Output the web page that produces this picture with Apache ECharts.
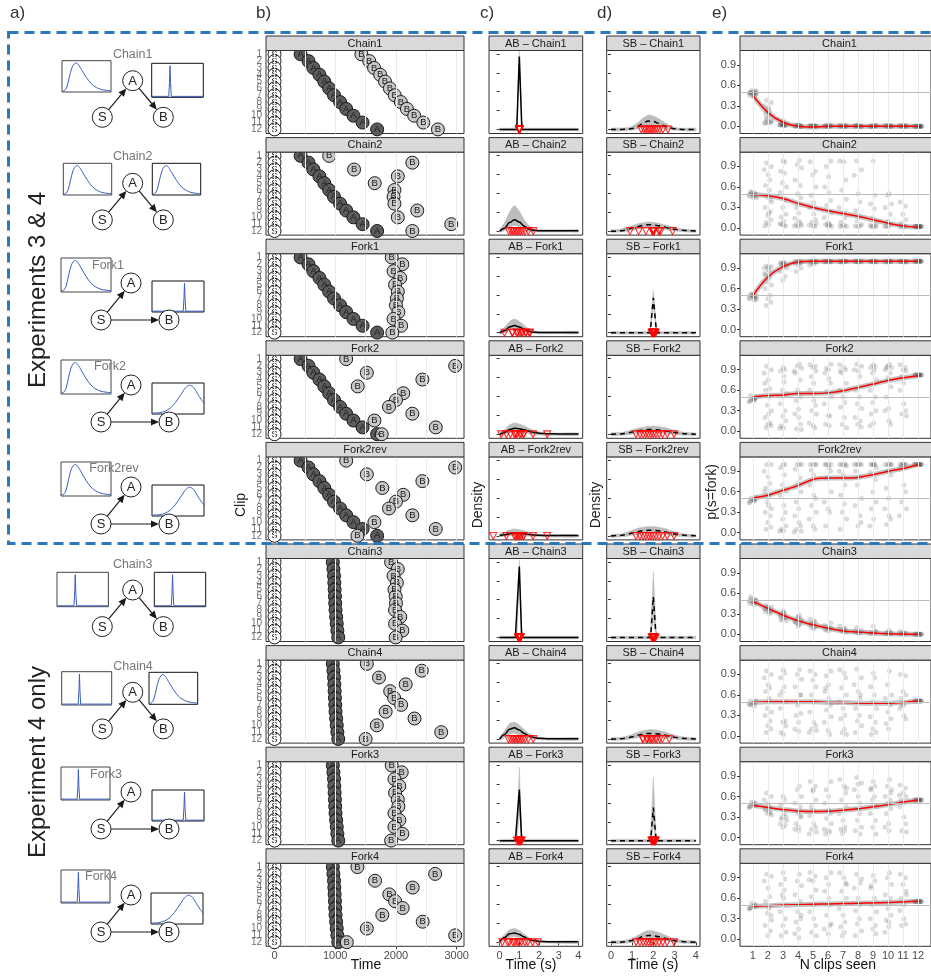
<!DOCTYPE html>
<html>
<head>
<meta charset="utf-8">
<script src="https://cdn.jsdelivr.net/npm/echarts@6/dist/echarts.min.js"></script>
<style>
html,body{margin:0;padding:0;background:#fff}
#chart{width:931px;height:976px}
</style>
</head>
<body>
<div id="chart"></div>
<script>
// ---------------- data ----------------
const panelNames = ['Chain1','Chain2','Fork1','Fork2','Fork2rev','Chain3','Chain4','Fork3','Fork4'];
const clipNumbers = [1,2,3,4,5,6,7,8,9,10,11,12];
const timeTicks = [0,1000,2000,3000];
const timeGridLines = [0,500,1000,1500,2000,2500,3000];
const secondTicks = [0,1,2,3,4];
const densityTicks = [0,1,2,3,4];
const probTicks = [0,0.3,0.6,0.9];
const chanceLevel = 0.5;

// event onsets per clip (ms)
const sOnsets = [0,0,0,0,0,0,0,0,0,0,0,0];
const aOnsetsExp3 = [430,560,640,740,820,900,980,1080,1180,1300,1450,1690];
const aOnsetsExp4 = [960,970,980,985,990,995,1000,1005,1015,1025,1035,1050];
const bChain1 = [1430,1560,1640,1740,1820,1900,1980,2080,2180,2300,2450,2690];
const bChain2 = [900,2270,1310,2030,1650,1975,1960,1975,2350,2030,2910,2270];
const bFork1 = [1930,2105,1960,2070,1985,2030,2015,2000,2040,1960,2085,1940];
const bFork2 = [1180,2975,1520,2435,1370,2120,2000,1885,2270,1645,2655,1765];
const bFork2rev = [1180,2975,1520,2435,1775,2120,2000,1885,2270,1645,2655,1365];
const bChain3 = [1920,2030,1960,2015,1975,1995,2000,1985,2070,1985,2105,1995];
const bChain4 = [1520,2425,1720,2160,1905,1970,2085,1830,2305,1685,2745,1500];
const bFork3 = [1930,2095,1975,2055,1985,2030,2040,1975,2055,1975,2105,1920];
const bFork4 = [1365,2645,1655,2275,1890,1985,2110,1775,2440,1520,2975,1190];

const aOnsets = [aOnsetsExp3,aOnsetsExp3,aOnsetsExp3,aOnsetsExp3,aOnsetsExp3,aOnsetsExp4,aOnsetsExp4,aOnsetsExp4,aOnsetsExp4];
const bOnsets = [bChain1,bChain2,bFork1,bFork2,bFork2rev,bChain3,bChain4,bFork3,bFork4];

// density estimates: [seconds, lower, estimate, upper]
const abChain1 = [[0,-.07,0,.07],[.75,-.07,0,.07],[.87,-.07,0,.45],[1,3.45,3.86,4.15],[1.13,-.07,0,.45],[1.25,-.07,0,.07],[4,-.07,0,.07]];
const abChain2 = [[0,-.06,0,.08],[.25,.03,.15,.45],[.5,.2,.45,1],[.75,.3,.6,1.35],[1,.22,.48,1.05],[1.25,.08,.26,.6],[1.5,0,.1,.28],[1.75,-.04,.04,.13],[2,-.05,.02,.08],[2.5,-.05,.02,.07],[3,-.05,.02,.07],[3.5,-.05,.02,.07],[4,-.05,.02,.07]];
const abFork1 = [[0,-.06,0,.07],[.25,0,.1,.3],[.5,.12,.3,.6],[.75,.15,.38,.72],[1,.1,.3,.6],[1.25,.04,.18,.4],[1.5,-.02,.08,.2],[1.75,-.05,.03,.1],[2,-.06,.01,.07],[3,-.06,.01,.07],[4,-.06,.01,.07]];
const abFork2 = [[0,-.06,0,.07],[.25,0,.1,.25],[.5,.08,.25,.5],[.75,.12,.32,.6],[1,.1,.3,.55],[1.25,.06,.24,.45],[1.5,.02,.16,.32],[1.75,-.02,.1,.2],[2,-.04,.06,.13],[2.25,-.05,.04,.09],[2.5,-.06,.03,.07],[3,-.06,.02,.07],[4,-.06,.02,.07]];
const abFork2rev = [[0,-.05,.02,.1],[.25,-.03,.06,.2],[.5,0,.12,.32],[.75,.02,.15,.37],[1,.02,.14,.34],[1.25,0,.11,.27],[1.5,-.02,.08,.2],[1.75,-.04,.05,.13],[2,-.05,.03,.09],[2.5,-.06,.02,.07],[3,-.06,.02,.07],[4,-.06,.02,.07]];
const abChain3 = [[0,-.07,0,.07],[.8,-.07,0,.07],[.88,-.07,0,.5],[1,3.3,3.76,4.1],[1.12,-.07,0,.5],[1.2,-.07,0,.07],[4,-.07,0,.07]];
const abChain4 = [[0,-.06,0,.08],[.25,.08,.25,.45],[.5,.25,.52,.82],[.75,.3,.6,.9],[1,.22,.48,.75],[1.25,.12,.3,.5],[1.5,.04,.16,.3],[1.75,0,.08,.16],[2,-.03,.04,.1],[2.5,-.05,.02,.07],[3,-.06,.02,.07],[4,-.06,.02,.07]];
const abFork3 = [[0,-.07,0,.07],[.8,-.07,0,.07],[.88,-.07,0,.45],[1,1.6,2.7,3.9],[1.12,-.07,0,.45],[1.2,-.07,0,.07],[4,-.07,0,.07]];
const abFork4 = [[0,-.05,.02,.1],[.25,.1,.25,.42],[.5,.25,.45,.66],[.75,.3,.5,.73],[1,.24,.42,.62],[1.25,.14,.28,.43],[1.5,.05,.15,.26],[1.75,0,.08,.15],[2,-.02,.05,.1],[2.5,-.04,.03,.07],[3,-.05,.03,.07],[4,-.05,.03,.07]];

const sbChain1 = [[0,-.07,0,.07],[.75,-.06,.01,.09],[1,-.03,.05,.18],[1.25,.03,.15,.35],[1.5,.12,.32,.6],[1.75,.2,.45,.76],[2,.2,.43,.72],[2.25,.14,.33,.58],[2.5,.06,.2,.4],[2.75,0,.1,.22],[3,-.04,.04,.12],[3.25,-.06,.01,.08],[3.5,-.07,0,.07],[4,-.07,0,.07]];
const sbChain2 = [[0,-.07,0,.07],[.25,-.06,0,.08],[.5,-.05,.02,.12],[.75,-.02,.08,.2],[1,.04,.16,.3],[1.25,.1,.24,.38],[1.5,.15,.3,.44],[1.75,.18,.34,.48],[2,.18,.33,.47],[2.25,.14,.28,.42],[2.5,.09,.22,.35],[2.75,.04,.15,.27],[3,.01,.1,.2],[3.25,-.02,.06,.14],[3.5,-.04,.03,.1],[3.75,-.06,.02,.08],[4,-.06,.01,.07]];
const sbFork1 = [[0,-.07,0,.07],[1.7,-.07,0,.07],[1.85,-.07,0,.3],[2,1.4,1.85,2.25],[2.15,-.07,0,.3],[2.3,-.07,0,.07],[4,-.07,0,.07]];
const sbFork2 = [[0,-.07,0,.07],[.5,-.05,.02,.1],[.75,-.03,.06,.16],[1,.01,.12,.24],[1.25,.05,.18,.32],[1.5,.08,.22,.38],[1.75,.1,.25,.42],[2,.1,.25,.44],[2.25,.08,.23,.42],[2.5,.05,.19,.37],[2.75,.02,.15,.3],[3,-.01,.1,.22],[3.25,-.04,.06,.15],[3.5,-.05,.03,.1],[4,-.06,.01,.07]];
const sbFork2rev = [[0,-.07,0,.07],[.5,-.05,.03,.12],[.75,-.02,.08,.2],[1,.03,.15,.3],[1.25,.08,.22,.4],[1.5,.12,.27,.46],[1.75,.14,.3,.5],[2,.14,.3,.5],[2.25,.11,.27,.46],[2.5,.07,.22,.4],[2.75,.03,.16,.31],[3,0,.1,.22],[3.25,-.03,.06,.15],[3.5,-.05,.03,.1],[4,-.06,.01,.07]];
const sbChain3 = [[0,-.07,0,.07],[1.75,-.07,0,.07],[1.87,-.07,0,.4],[2,1,2.16,3.5],[2.13,-.07,0,.4],[2.25,-.07,0,.07],[4,-.07,0,.07]];
const sbChain4 = [[0,-.07,0,.07],[.5,-.05,.02,.1],[.75,-.03,.06,.16],[1,.02,.12,.26],[1.25,.07,.2,.36],[1.5,.11,.26,.44],[1.75,.13,.3,.5],[2,.13,.3,.5],[2.25,.11,.27,.46],[2.5,.07,.22,.39],[2.75,.03,.16,.3],[3,0,.1,.22],[3.25,-.03,.06,.15],[3.5,-.05,.03,.1],[4,-.06,.01,.07]];
const sbFork3 = [[0,-.07,0,.07],[1.75,-.07,0,.07],[1.87,-.07,0,.4],[2,.8,1.75,3.35],[2.13,-.07,0,.4],[2.25,-.07,0,.07],[4,-.07,0,.07]];
const sbFork4 = [[0,-.07,0,.07],[.5,-.06,.01,.08],[.75,-.04,.04,.13],[1,.01,.1,.22],[1.25,.07,.2,.36],[1.5,.13,.3,.52],[1.75,.16,.36,.62],[2,.15,.35,.6],[2.25,.12,.3,.52],[2.5,.07,.23,.42],[2.75,.03,.15,.3],[3,0,.09,.2],[3.25,-.03,.05,.13],[3.5,-.05,.03,.09],[4,-.06,.01,.07]];

const abDensities = [abChain1,abChain2,abFork1,abFork2,abFork2rev,abChain3,abChain4,abFork3,abFork4];
const sbDensities = [sbChain1,sbChain2,sbFork1,sbFork2,sbFork2rev,sbChain3,sbChain4,sbFork3,sbFork4];

// p(s=fork) judgements per number of clips seen (one string per clip count)
const judgChain1 = [
 '0.45 0.47 0.48 0.5 0.52 0.49 0.46 0.51 0.48 0.44 0.53 0.47 0.5 0.49',
 '0.38 0.35 0.3 0.25 0.22 0.18 0.15 0.1 0.08 0.06 0.05 0.05 0.07 0.12 0.28 0.04',
 '0.08 0.04 0.03 0.02 0.02 0.03 0.02 0.01 0.05 0.02 0.03 0.01 0.02 0.03',
 '0.02 0.01 0 0.01 0 0.01 0 0.01 0.02 0 0.01 0 0.01 0',
 '0.01 0 0 0.01 0 0.01 0 0.01 0 0.01 0 0.01 0 0',
 '0.01 0 0 0.01 0 0.01 0 0.01 0 0.01 0 0.01 0 0',
 '0.01 0 0 0.01 0 0.01 0 0.01 0 0.01 0 0.01 0 0',
 '0.01 0 0 0.01 0 0.01 0 0.01 0 0.01 0 0.01 0 0',
 '0.01 0 0 0.01 0 0.01 0 0.01 0 0.01 0 0.01 0 0',
 '0.01 0 0 0.01 0 0.01 0 0.01 0 0.01 0 0.01 0 0',
 '0.01 0 0 0.01 0 0.01 0 0.01 0 0.01 0 0.01 0 0',
 '0 0 0 0 0 0 0 0 0 0 0 0 0 0 0 0'];
const judgChain2 = [
 '0.46 0.48 0.5 0.52 0.47 0.49 0.45 0.51 0.53 0.48 0.5 0.44',
 '0.95 0.9 0.85 0.78 0.7 0.62 0.55 0.45 0.38 0.3 0.24 0.18 0.12 0.08 0.05 0.03 0.22 0.42',
 '0.98 0.96 0.83 0.8 0.66 0.6 0.52 0.4 0.3 0.2 0.16 0.1 0.06 0.04 0.03 0.05',
 '0.99 0.93 0.88 0.7 0.62 0.5 0.44 0.3 0.22 0.14 0.1 0.07 0.05 0.04 0.03 0.02',
 '0.97 0.83 0.78 0.6 0.48 0.37 0.3 0.2 0.12 0.08 0.06 0.04 0.03 0.02',
 '0.98 0.9 0.75 0.6 0.52 0.4 0.33 0.22 0.15 0.08 0.05 0.05 0.04 0.03 0.02',
 '0.98 0.97 0.7 0.55 0.42 0.3 0.22 0.15 0.08 0.04 0.03 0.02 0.02',
 '0.98 0.85 0.77 0.5 0.38 0.25 0.18 0.1 0.05 0.03 0.03 0.02',
 '0.98 0.48 0.35 0.28 0.15 0.08 0.04 0.03 0.02 0.02 0.02',
 '0.5 0.48 0.35 0.3 0.2 0.1 0.05 0.03 0.02 0.02',
 '0.38 0.32 0.2 0.12 0.07 0.03 0.02 0.02 0.02 0.02',
 '0.02 0.02 0.02 0.02 0.02 0.02 0.02 0.02 0.02 0.02 0.02 0.02 0.02 0.02'];
const judgFork1 = [
 '0.45 0.48 0.5 0.52 0.44 0.47 0.49 0.46 0.51 0.43 0.5 0.48',
 '0.93 0.92 0.9 0.88 0.85 0.8 0.75 0.7 0.65 0.6 0.5 0.45 0.4 0.35 0.92 0.82',
 '0.98 0.98 0.97 0.96 0.95 0.9 0.85 0.78 0.72 0.95 0.97 0.93',
 '1 1 0.99 0.98 0.97 0.95 0.9 0.85 0.99 1 1 0.99',
 '1 1 0.99 0.99 0.98 0.96 0.94 1 1 1 0.99',
 '1 1 1 0.99 1 0.99 1 1 1 1 0.99 1',
 '1 1 1 0.99 1 0.99 1 1 1 1 0.99 1',
 '1 1 1 0.99 1 0.99 1 1 1 1 0.99 1',
 '1 1 1 0.99 1 0.99 1 1 1 1 0.99 1',
 '1 1 1 0.99 1 0.99 1 1 1 1 0.99 1',
 '1 1 1 0.99 1 0.99 1 1 1 1 0.99 1',
 '1 1 1 1 1 1 1 1 1 1 1 1 1 1'];
const judgFork2 = [
 '0.44 0.47 0.49 0.46 0.5 0.43 0.48 0.45 0.52 0.47',
 '0.95 0.9 0.85 0.75 0.62 0.6 0.5 0.38 0.3 0.2 0.12 0.1 0.08 0.05 0.25 0.7',
 '0.93 0.9 0.88 0.72 0.6 0.55 0.4 0.3 0.22 0.15 0.08 0.05 0.04 0.8',
 '0.98 0.95 0.92 0.85 0.75 0.6 0.5 0.45 0.32 0.25 0.2 0.1 0.03 0.02 0.88',
 '0.97 0.95 0.93 0.88 0.8 0.7 0.6 0.45 0.38 0.3 0.25 0.12 0.08 0.05',
 '0.98 0.92 0.9 0.85 0.77 0.7 0.58 0.5 0.4 0.23 0.22 0.1 0.08',
 '0.97 0.93 0.9 0.85 0.7 0.6 0.5 0.42 0.35 0.2 0.1 0.05 0.88',
 '0.98 0.95 0.9 0.88 0.8 0.6 0.5 0.4 0.33 0.2 0.15 0.1 0.06',
 '0.97 0.95 0.93 0.9 0.85 0.75 0.6 0.5 0.42 0.3 0.25 0.12 0.08',
 '0.98 0.95 0.93 0.9 0.85 0.78 0.65 0.5 0.33 0.3 0.15 0.1 0.93',
 '0.97 0.93 0.9 0.88 0.8 0.7 0.6 0.4 0.3 0.25 0.22',
 '0.82 0.82 0.82 0.82 0.82 0.82 0.82 0.82 0.82 0.82 0.82 0.82'];
const judgFork2rev = [
 '0.45 0.48 0.5 0.47 0.52 0.44 0.49 0.46 0.51 0.48',
 '1 1 0.9 0.82 0.72 0.65 0.55 0.45 0.35 0.3 0.25 0.15 0.08 0.05 0.4 0.6',
 '1 1 0.95 0.85 0.7 0.6 0.55 0.3 0.2 0.1 0.05 0.03 0.02 0.4',
 '1 1 1 0.93 0.8 0.72 0.6 0.45 0.35 0.25 0.15 0.1 0.05 0.02 0.01',
 '1 1 1 1 0.92 0.85 0.7 0.55 0.5 0.4 0.3 0.2 0.1 0.05',
 '1 1 1 1 0.95 0.9 0.8 0.6 0.45 0.35 0.3 0.1',
 '1 1 1 1 0.98 0.9 0.85 0.7 0.55 0.42 0.3 0.2 0.05',
 '1 1 1 1 1 0.9 0.82 0.7 0.5 0.4 0.25 0.1 0.15',
 '1 1 1 1 1 0.95 0.88 0.78 0.6 0.45 0.35 0.2 0.1',
 '1 1 1 1 1 0.9 0.85 0.65 0.5 0.35 0.25 0.2 0.12',
 '1 1 1 1 1 1 0.95 0.7 0.6 0.45 0.35 0.25',
 '1 1 1 1 1 1 1 1 1 1 1 1'];
const judgChain3 = [
 '0.45 0.48 0.5 0.52 0.47 0.49 0.46 0.51 0.55 0.43 0.48 0.5',
 '0.42 0.4 0.38 0.36 0.35 0.33 0.3 0.38 0.34 0.37 0.32 0.4',
 '0.35 0.3 0.28 0.25 0.22 0.2 0.27 0.24 0.3 0.26 0.21 0.32',
 '0.28 0.25 0.2 0.18 0.15 0.12 0.22 0.17 0.25 0.19 0.14',
 '0.22 0.18 0.15 0.12 0.1 0.08 0.14 0.2 0.11 0.16',
 '0.17 0.12 0.09 0.07 0.05 0.1 0.06 0.08 0.13',
 '0.12 0.08 0.06 0.05 0.03 0.07 0.04 0.09',
 '0.1 0.06 0.04 0.03 0.02 0.05 0.03 0.02',
 '0.12 0.05 0.03 0.02 0.02 0.04 0.01 0.02',
 '0.06 0.03 0.02 0.01 0.02 0.01 0.01 0.02',
 '0.04 0.02 0.01 0.01 0.01 0.02 0.01 0.01',
 '0 0 0 0 0 0 0 0 0 0 0 0'];
const judgChain4 = [
 '0.46 0.48 0.5 0.45 0.52 0.47 0.49 0.44 0.51',
 '0.95 0.9 0.85 0.75 0.7 0.65 0.55 0.4 0.35 0.3 0.22 0.15 0.1 0.05',
 '0.97 0.92 0.85 0.72 0.65 0.5 0.4 0.22 0.2 0.15 0.05 0.02 0.6',
 '0.97 0.9 0.83 0.72 0.6 0.45 0.33 0.3 0.2 0.1 0.07 0.6',
 '0.95 0.9 0.82 0.72 0.6 0.5 0.35 0.2 0.15 0.1 0.08 0.05',
 '0.95 0.88 0.75 0.65 0.55 0.45 0.38 0.28 0.2 0.08 0.02 0.7',
 '0.97 0.92 0.85 0.7 0.6 0.5 0.4 0.3 0.25 0.1 0.05 0.02',
 '0.98 0.85 0.75 0.65 0.55 0.4 0.3 0.22 0.15 0.05 0.6',
 '0.92 0.85 0.72 0.6 0.5 0.4 0.28 0.2 0.1 0.05 0.02',
 '0.95 0.75 0.6 0.55 0.45 0.35 0.25 0.18 0.1',
 '0.9 0.88 0.65 0.6 0.55 0.45 0.4 0.3 0.25 0.45',
 '0.51 0.51 0.51 0.51 0.51 0.51 0.51 0.51 0.51 0.51 0.51 0.51'];
const judgFork3 = [
 '0.45 0.48 0.5 0.52 0.47 0.44 0.49 0.51 0.46',
 '0.65 0.6 0.55 0.5 0.45 0.4 0.38 0.35 0.33 0.42 0.36',
 '0.6 0.55 0.48 0.35 0.3 0.25 0.2 0.18 0.15 0.3 0.27',
 '0.75 0.7 0.6 0.5 0.45 0.35 0.3 0.2 0.15 0.12 0.1 0.32',
 '0.82 0.75 0.68 0.55 0.45 0.4 0.32 0.2 0.15 0.12 0.08 0.05 0.7',
 '0.82 0.7 0.6 0.5 0.4 0.35 0.28 0.2 0.12 0.1 0.08 0.05',
 '0.85 0.75 0.65 0.55 0.45 0.35 0.25 0.15 0.12 0.1 0.06 0.72',
 '0.88 0.8 0.7 0.6 0.5 0.42 0.35 0.25 0.15 0.1 0.05 0.78',
 '0.82 0.75 0.7 0.6 0.55 0.45 0.35 0.25 0.15 0.05 0.72',
 '0.85 0.75 0.7 0.6 0.55 0.5 0.42 0.35 0.2 0.15 0.1 0.65',
 '0.77 0.72 0.65 0.6 0.55 0.5 0.45 0.3 0.2 0.1 0.08 0.62',
 '0.55 0.55 0.55 0.55 0.55 0.55 0.55 0.55 0.55 0.55 0.55 0.55'];
const judgFork4 = [
 '0.45 0.48 0.5 0.52 0.47 0.44 0.49 0.51 0.46 0.48',
 '0.95 0.92 0.85 0.75 0.62 0.55 0.45 0.38 0.28 0.2 0.12 0.05 0.35',
 '0.97 0.88 0.8 0.72 0.65 0.5 0.4 0.3 0.2 0.1 0.05 0.6',
 '0.95 0.85 0.78 0.65 0.55 0.4 0.35 0.25 0.15 0.08 0.02 0.3',
 '0.98 0.92 0.85 0.72 0.62 0.5 0.4 0.3 0.2 0.1 0.05 0.87',
 '0.97 0.9 0.8 0.7 0.6 0.5 0.35 0.22 0.15 0.08 0.2',
 '0.97 0.9 0.82 0.7 0.6 0.45 0.35 0.25 0.18 0.1 0.05 0.8',
 '0.95 0.88 0.75 0.6 0.5 0.42 0.3 0.22 0.12 0.05 0.82',
 '0.93 0.85 0.75 0.6 0.5 0.4 0.3 0.2 0.15 0.08 0.78',
 '0.97 0.9 0.8 0.65 0.6 0.45 0.35 0.28 0.18 0.1 0.25',
 '0.95 0.9 0.8 0.7 0.6 0.5 0.42 0.3 0.22 0.2 0.65',
 '0.55 0.55 0.55 0.55 0.55 0.55 0.55 0.55 0.55 0.55 0.55 0.55'];
const judgements = [judgChain1,judgChain2,judgFork1,judgFork2,judgFork2rev,judgChain3,judgChain4,judgFork3,judgFork4];

// smoothed mean judgement per clip count
const smoothChain1 = [0.45,0.2,0.06,0.0,-0.01,0.0,0.0,0.0,0.0,0.0,0.0,0.0];
const smoothChain2 = [0.49,0.47,0.43,0.36,0.3,0.25,0.21,0.17,0.12,0.07,0.03,0.01];
const smoothFork1 = [0.5,0.77,0.92,0.99,1.0,1.0,1.0,1.0,1.0,1.0,1.0,1.0];
const smoothFork2 = [0.5,0.52,0.53,0.55,0.55,0.56,0.59,0.64,0.69,0.74,0.78,0.81];
const smoothFork2rev = [0.51,0.55,0.62,0.69,0.78,0.8,0.8,0.81,0.85,0.9,0.94,1.0];
const smoothChain3 = [0.48,0.38,0.28,0.2,0.14,0.09,0.05,0.035,0.02,0.01,0.005,0.0];
const smoothChain4 = [0.49,0.5,0.5,0.5,0.5,0.49,0.49,0.48,0.48,0.48,0.49,0.51];
const smoothFork3 = [0.47,0.44,0.41,0.39,0.38,0.385,0.4,0.42,0.45,0.48,0.52,0.55];
const smoothFork4 = [0.48,0.49,0.5,0.505,0.51,0.515,0.52,0.525,0.53,0.535,0.545,0.555];
const smoothed = [smoothChain1,smoothChain2,smoothFork1,smoothFork2,smoothFork2rev,smoothChain3,smoothChain4,smoothFork3,smoothFork4];

// delay distributions sketched in the structure diagrams (unit scale)
const skewCurveX = [0,.05,.1,.15,.2,.25,.29,.35,.4,.5,.6,.7,.8,.9,1];
const skewCurveY = [0,.02,.15,.5,.82,.97,1,.9,.76,.48,.26,.13,.06,.03,.01];
const spikeEarlyX = [0,.33,.345,.355,.365,.38,1];
const spikeEarlyY = [0,0,.45,1,.45,0,0];
const spikeLateX = [0,.6,.615,.625,.635,.65,1];
const spikeLateY = [0,0,.45,1,.45,0,0];
const gaussCurveX = [0,.15,.25,.35,.45,.55,.65,.72,.8,.9,1];
const gaussCurveY = [0,.02,.07,.18,.38,.65,.92,1,.92,.62,.35];

// ---------------- layout & styling ----------------
const FONT = "'Liberation Sans', Arial, Helvetica, sans-serif";
const ROW0 = 36, PITCH = 101.6, STRIP = 14.5, PLOT_H = 83;
const rowTop = i => ROW0 + i * PITCH;
const plotTop = i => rowTop(i) + STRIP;
const COL = {
  b: {left: 266, width: 198},
  c: {left: 489, width: 93.7},
  d: {left: 606.7, width: 93.3},
  e: {left: 740, width: 196}
};
const jitterOffsets = [-0.21,0.06,0.17,-0.09,0.23,-0.25,0.01,0.12,-0.16,0.09,-0.04,0.24,-0.19,0.15,-0.01,0.2,-0.12,0.04];

const grid = [], xAxis = [], yAxis = [], series = [], elements = [];

function addGrid(box, xa, ya) {
  grid.push(Object.assign({show: true, borderColor: '#333', borderWidth: 1, backgroundColor: '#fff', containLabel: false}, box));
  const idx = grid.length - 1;
  xAxis.push(Object.assign({gridIndex: idx}, xa));
  yAxis.push(Object.assign({gridIndex: idx}, ya));
  return idx;
}
function axisBase(extra) {
  return Object.assign({type: 'value', axisLine: {show: false}, splitLine: {show: false},
    axisTick: {show: false}, axisLabel: {show: false}}, extra);
}
function tickCfg(values, show) {
  return {show: show, customValues: values, length: 3, lineStyle: {color: '#333', width: 1}};
}
function labelCfg(values, show, fmt, size) {
  return {show: show, customValues: values, formatter: fmt, color: '#4d4d4d', fontSize: size || 11,
    fontFamily: FONT, margin: 4, showMinLabel: true, showMaxLabel: true, hideOverlap: false};
}
function refLines(g, dim, values, color, width, anchor) {
  return {type: 'scatter', xAxisIndex: g, yAxisIndex: g, z: 1, silent: true, symbolSize: 0,
    data: [anchor],
    markLine: {silent: true, symbol: ['none', 'none'], label: {show: false}, animation: false,
      lineStyle: {color: color, width: width, type: 'solid'},
      emphasis: {disabled: true},
      data: values.map(v => ({[dim]: v}))}};
}
function stripBox(left, width, top, text) {
  elements.push({type: 'rect', z: 50, shape: {x: left, y: top, width: width, height: STRIP},
    style: {fill: '#d9d9d9', stroke: '#333', lineWidth: 1}});
  elements.push({type: 'text', z: 51, x: left + Math.min(width, 931 - left) / 2 + (left > 700 ? 4 : 0), y: top + STRIP / 2 + 0.5,
    style: {text: text, align: 'center', verticalAlign: 'middle', fontSize: 11, fontFamily: FONT, fill: '#1a1a1a'}});
}

panelNames.forEach((name, i) => {
  const last = i === panelNames.length - 1;
  const top = plotTop(i);

  // ---- b) clip timelines ----
  const gb = addGrid({left: COL.b.left, top: top, width: COL.b.width, height: PLOT_H},
    axisBase({min: -140, max: 3120, axisTick: tickCfg(timeTicks, last),
      axisLabel: labelCfg(timeTicks, last, v => String(v), 11)}),
    axisBase({inverse: true, min: 0.45, max: 12.6, axisTick: tickCfg(clipNumbers, true)}));
  stripBox(COL.b.left, COL.b.width, rowTop(i), name);
  series.push(refLines(gb, 'xAxis', timeGridLines, '#ebebeb', 1, [0, 1]));
  // clip numbers along the left edge (they overlap, as the rows are tight)
  series.push({type: 'scatter', xAxisIndex: gb, yAxisIndex: gb, z: 3, silent: true, clip: false,
    symbolSize: 0, data: clipNumbers.map(c => [-140, c]),
    label: {show: true, position: 'left', distance: 4, formatter: p => String(p.value[1]),
      fontSize: 10, fontFamily: FONT, color: '#4d4d4d'}});
  const eventSeries = (times, letter, fill) => ({
    type: 'scatter', xAxisIndex: gb, yAxisIndex: gb, z: 3, silent: true, symbol: 'circle', symbolSize: 13,
    data: times.map((t, k) => [t, clipNumbers[k]]),
    itemStyle: {color: fill, borderColor: '#1a1a1a', borderWidth: 1, opacity: 1},
    label: {show: true, position: 'inside', formatter: letter, fontSize: 9.5, fontFamily: FONT, color: '#1a1a1a'}
  });
  series.push(eventSeries(sOnsets, 'S', '#ffffff'));
  series.push(eventSeries(aOnsets[i], 'A', '#5c5c5c'));
  series.push(eventSeries(bOnsets[i], 'B', '#c8c8c8'));

  // ---- c) / d) interval densities ----
  const abGaps = bOnsets[i].map((b, k) => (b - aOnsets[i][k]) / 1000);
  const sbGaps = bOnsets[i].map((b, k) => (b - sOnsets[k]) / 1000);
  const densityPanel = (col, xmin, xmax, rows, gaps, dashed, title) => {
    const g = addGrid({left: col.left, top: top, width: col.width, height: PLOT_H},
      axisBase({min: xmin, max: xmax, axisTick: tickCfg(secondTicks, last),
        axisLabel: labelCfg(secondTicks, last, v => String(v), 11)}),
      axisBase({min: -0.21, max: 4.18, axisTick: tickCfg(densityTicks, true)}));
    stripBox(col.left, col.width, rowTop(i), title);
    const smooth = rows.length > 7 ? 0.35 : false;
    // uncertainty band: upper edge forward, lower edge back, as one polygon
    series.push({type: 'custom', xAxisIndex: g, yAxisIndex: g, z: 2, silent: true,
      data: rows.map(r => [r[0], r[1], r[3]]),
      encode: {x: 0, y: [1, 2]},
      renderItem: (params, api) => {
        if (params.dataIndex !== 0) return null;
        const upper = rows.map(r => api.coord([r[0], r[3]]));
        const lower = rows.map(r => api.coord([r[0], r[1]])).reverse();
        return {type: 'polygon', shape: {points: upper.concat(lower), smooth: smooth ? 0.25 : 0},
          style: {fill: '#bdbdbd', stroke: '#bdbdbd', lineWidth: 0.5}};
      }});
    series.push({type: 'line', xAxisIndex: g, yAxisIndex: g, z: 3, silent: true, symbol: 'none',
      smooth: smooth, smoothMonotone: 'x',
      lineStyle: {color: '#000', width: 1.5, type: dashed ? [5, 4] : 'solid'},
      data: rows.map(r => [r[0], r[2]])});
    series.push({type: 'scatter', xAxisIndex: g, yAxisIndex: g, z: 4, silent: true,
      symbol: 'triangle', symbolRotate: 180, symbolSize: 7,
      itemStyle: {color: 'rgba(255,255,255,0)', borderColor: '#ff0000', borderWidth: 1.1},
      data: gaps.map(v => [v, 0])});
  };
  densityPanel(COL.c, -0.54, 4.22, abDensities[i], abGaps, false, 'AB \u2013 ' + name);
  densityPanel(COL.d, -0.2, 4.2, sbDensities[i], sbGaps, true, 'SB \u2013 ' + name);

  // ---- e) judgements ----
  const ge = addGrid({left: COL.e.left, top: top, width: COL.e.width, height: PLOT_H},
    axisBase({min: 0.14, max: 12.86, axisTick: tickCfg(clipNumbers, last),
      axisLabel: labelCfg(clipNumbers, last, v => String(v), 11)}),
    axisBase({min: -0.105, max: 1.11, axisTick: tickCfg(probTicks, true),
      axisLabel: labelCfg(probTicks, true, v => v.toFixed(1), 11)}));
  stripBox(COL.e.left, COL.e.width + 10, rowTop(i), name);
  series.push(refLines(ge, 'xAxis', clipNumbers, '#ebebeb', 1, [1, 0.5]));
  series.push(refLines(ge, 'yAxis', [chanceLevel], '#bdbdbd', 1.2, [1, 0.5]));
  const pts = [];
  judgements[i].forEach((s, k) => {
    s.trim().split(/\s+/).map(Number).forEach((v, j) => {
      pts.push([clipNumbers[k] + jitterOffsets[(j + 3 * k) % jitterOffsets.length], v]);
    });
  });
  series.push({type: 'scatter', xAxisIndex: ge, yAxisIndex: ge, z: 2, silent: true, symbolSize: 5,
    itemStyle: {color: 'rgba(30,30,30,0.2)'}, data: pts});
  const curve = smoothed[i].map((v, k) => [clipNumbers[k], v]);
  series.push({type: 'line', xAxisIndex: ge, yAxisIndex: ge, z: 3, silent: true, symbol: 'none',
    smooth: 0.3, lineStyle: {color: 'rgba(150,150,150,0.55)', width: 5}, data: curve});
  series.push({type: 'line', xAxisIndex: ge, yAxisIndex: ge, z: 4, silent: true, symbol: 'none',
    smooth: 0.3, lineStyle: {color: '#ff0000', width: 1.5}, data: curve});
});

// ---------------- a) structure diagrams ----------------
const diagramLeftCurve = [
  [skewCurveX, skewCurveY],[skewCurveX, skewCurveY],[skewCurveX, skewCurveY],[skewCurveX, skewCurveY],[skewCurveX, skewCurveY],
  [spikeEarlyX, spikeEarlyY],[spikeEarlyX, spikeEarlyY],[spikeEarlyX, spikeEarlyY],[spikeEarlyX, spikeEarlyY]];
const diagramRightCurve = [
  [spikeEarlyX, spikeEarlyY],[skewCurveX, skewCurveY],[spikeLateX, spikeLateY],[gaussCurveX, gaussCurveY],[gaussCurveX, gaussCurveY],
  [spikeEarlyX, spikeEarlyY],[skewCurveX, skewCurveY],[spikeLateX, spikeLateY],[gaussCurveX, gaussCurveY]];
const nodeA_Y = [80.7, 183.3, 283, 385, 487, 590, 692.3, 792, 895];
const leftBoxes = [[62,60.7,49,31.3],[63.3,163.3,48.4,31.7],[61,258,50,34],[61,360,50,34],[61,462,50,34],
                   [57,572.3,51.4,34.4],[61.7,671.7,50,33.3],[61,767,49,33],[61,870,49,33]];
const rightBoxes = [[151.7,63.3,51.6,34],[152.3,163.3,48.4,31.7],[152,281,52,31],[152,383,52,31],[152,485,52,31],
                    [154.3,572.3,51.4,34.4],[149,672.3,48.7,32],[152,790,52,31],[151,893,52,31]];
const titlePos = [[132.7,54.3],[132.7,156.7],[108,266],[110,367],[114,469],[132.7,564.3],[133,667],[106,775],[101,877]];

function miniCurve(box, curve, border) {
  const g = addGrid({left: box[0], top: box[1], width: box[2], height: box[3], borderColor: border, borderWidth: 1},
    {type: 'value', min: 0, max: 1, show: false}, {type: 'value', min: -0.03, max: 1.08, show: false});
  series.push({type: 'line', xAxisIndex: g, yAxisIndex: g, silent: true, symbol: 'none',
    smooth: curve[0].length > 7 ? 0.3 : false,
    lineStyle: {color: '#3c5cbd', width: 1}, data: curve[0].map((x, k) => [x, curve[1][k]])});
}
function node(cx, cy, letter) {
  elements.push({type: 'circle', z: 60, shape: {cx: cx, cy: cy, r: 10}, style: {fill: '#fff', stroke: '#222', lineWidth: 1}});
  elements.push({type: 'text', z: 61, x: cx, y: cy + 0.5, style: {text: letter, align: 'center', verticalAlign: 'middle',
    fontSize: 13, fontFamily: FONT, fill: '#222'}});
}
function arrow(p, q) {
  const r = 10, dx = q[0] - p[0], dy = q[1] - p[1], L = Math.hypot(dx, dy), ux = dx / L, uy = dy / L;
  const x1 = p[0] + ux * r, y1 = p[1] + uy * r, x2 = q[0] - ux * r, y2 = q[1] - uy * r;
  const hl = 8, hw = 3.6, bx = x2 - ux * hl, by = y2 - uy * hl;
  elements.push({type: 'line', z: 60, shape: {x1: x1, y1: y1, x2: bx, y2: by}, style: {stroke: '#1a1a1a', lineWidth: 1.2}});
  elements.push({type: 'polygon', z: 60, shape: {points: [[x2, y2], [bx - uy * hw, by + ux * hw], [bx + uy * hw, by - ux * hw]]},
    style: {fill: '#1a1a1a'}});
}

panelNames.forEach((name, i) => {
  const fork = name.indexOf('Fork') === 0;
  const yA = nodeA_Y[i];
  miniCurve(leftBoxes[i], diagramLeftCurve[i], '#444');
  miniCurve(rightBoxes[i], diagramRightCurve[i], '#111');
  elements.push({type: 'text', z: 62, x: titlePos[i][0], y: titlePos[i][1],
    style: {text: name, align: 'center', verticalAlign: 'middle', fontSize: 12.5, fontFamily: FONT, fill: '#777'}});
  const A = fork ? [131, yA] : [132.7, yA];
  const S = fork ? [101, yA + 37] : [102.3, yA + 36.6];
  const B = fork ? [169, yA + 37] : [163.3, yA + 36.6];
  arrow(S, A);
  if (fork) arrow(S, B); else arrow(A, B);
  node(A[0], A[1], 'A'); node(S[0], S[1], 'S'); node(B[0], B[1], 'B');
});

// ---------------- titles and frames ----------------
[['a)', 10], ['b)', 256], ['c)', 480], ['d)', 597], ['e)', 712]].forEach(([t, x]) => {
  elements.push({type: 'text', z: 70, x: x, y: 13, style: {text: t, align: 'left', verticalAlign: 'middle',
    fontSize: 17, fontFamily: FONT, fill: '#333'}});
});
const rotText = (text, x, y, size) => elements.push({type: 'text', z: 70, x: x, y: y, rotation: Math.PI / 2,
  style: {text: text, align: 'center', verticalAlign: 'middle', fontSize: size, fontFamily: FONT, fill: '#222'}});
rotText('Experiments 3 & 4', 38, 290, 24);
rotText('Experiment 4 only', 38, 762, 24);
rotText('Clip', 241, 505, 14);
rotText('Density', 478, 505, 14);
rotText('Density', 596, 505, 14);
rotText('p(s=fork)', 712, 492, 14);
[['Time', 366], ['Time (s)', 531], ['Time (s)', 653], ['N clips seen', 838]].forEach(([t, x]) => {
  elements.push({type: 'text', z: 70, x: x, y: 965, style: {text: t, align: 'center', verticalAlign: 'middle',
    fontSize: 14, fontFamily: FONT, fill: '#111'}});
});
elements.push({type: 'rect', z: 80, shape: {x: 8.5, y: 32.5, width: 940, height: 511},
  style: {fill: 'none', stroke: '#2878bd', lineWidth: 3, lineDash: [10, 6]}});

const chart = echarts.init(document.getElementById('chart'), null, {renderer: 'canvas'});
chart.setOption({
  animation: false,
  backgroundColor: '#ffffff',
  textStyle: {fontFamily: FONT},
  grid: grid, xAxis: xAxis, yAxis: yAxis, series: series,
  graphic: {elements: elements}
});
</script>
</body>
</html>
